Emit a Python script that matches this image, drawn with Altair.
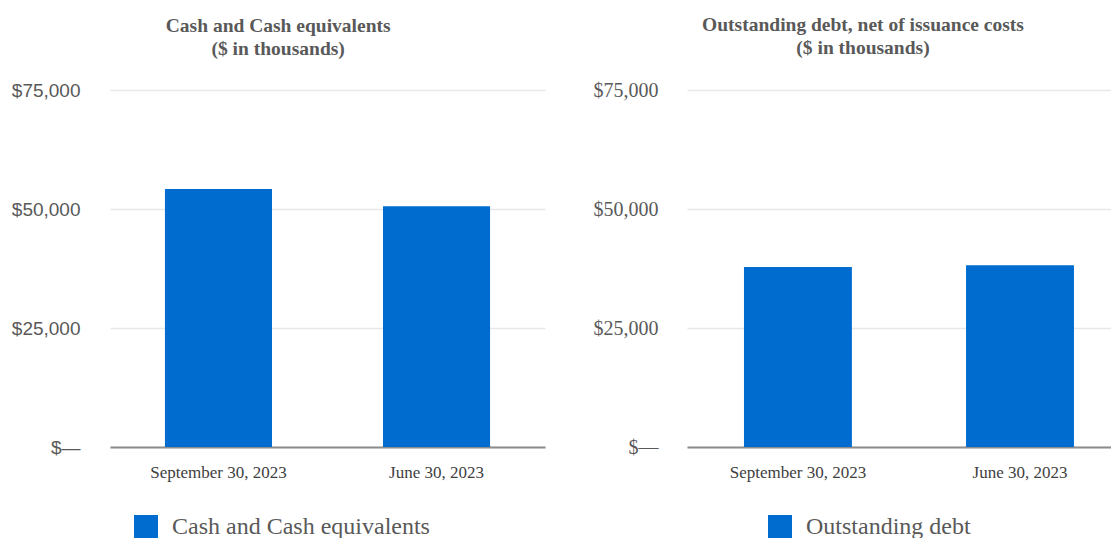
import altair as alt
import pandas as pd

periods = ["September 30, 2023", "June 30, 2023"]
cash_values = [54200, 50600]
debt_values = [37800, 38200]
y_ticks = [0, 25000, 50000, 75000]

left_title = ["Cash and Cash equivalents", "($ in thousands)"]
right_title = ["Outstanding debt, net of issuance costs", "($ in thousands)"]
left_series = "Cash and Cash equivalents"
right_series = "Outstanding debt"

BLUE = "#006ccf"
GREY = "#595959"

cash_df = pd.DataFrame({"period": periods, "value": cash_values, "series": left_series})
debt_df = pd.DataFrame({"period": periods, "value": debt_values, "series": right_series})

label_expr = "datum.value == 0 ? '$\u2014' : '$' + format(datum.value, ',')"


def panel(df, title, series, width, label_font, label_size, label_pad, x_scale, legend_x, title_dx):
    return (
        alt.Chart(df)
        .mark_bar()
        .encode(
            x=alt.X(
                "period:N",
                sort=periods,
                scale=x_scale,
                axis=alt.Axis(
                    title=None,
                    labelAngle=0,
                    labelFont="Liberation Serif",
                    labelFontSize=17,
                    labelColor="#404040",
                    labelPadding=17,
                    ticks=False,
                    domain=True,
                    domainColor="#8c8c8c",
                    domainWidth=2,
                    grid=False,
                ),
            ),
            y=alt.Y(
                "value:Q",
                scale=alt.Scale(domain=[0, 75000], nice=False),
                axis=alt.Axis(
                    title=None,
                    values=y_ticks,
                    labelExpr=label_expr,
                    labelFont=label_font,
                    labelFontSize=label_size,
                    labelColor=GREY,
                    labelPadding=label_pad,
                    ticks=False,
                    domain=False,
                    grid=True,
                    gridColor="#e8e8e8",
                    gridWidth=1.5,
                ),
            ),
            color=alt.Color(
                "series:N",
                scale=alt.Scale(domain=[series], range=[BLUE]),
                legend=alt.Legend(
                    title=None,
                    orient="none",
                    legendX=legend_x,
                    legendY=425,
                    symbolType="square",
                    symbolSize=576,
                    symbolStrokeWidth=0,
                    labelFont="Liberation Serif",
                    labelFontSize=24,
                    labelColor=GREY,
                    labelOffset=14,
                    labelLimit=0,
                ),
            ),
        )
        .properties(
            width=width,
            height=357,
            title=alt.TitleParams(
                title,
                font="Liberation Serif",
                fontSize=19.5,
                fontWeight="bold",
                color=GREY,
                lineHeight=23,
                offset=22,
                dx=title_dx,
                frame="bounds",
                anchor="middle",
            ),
        )
    )


left = panel(
    cash_df, left_title, left_series, 435, "Liberation Sans", 19, 30,
    alt.Scale(paddingInner=0.509, paddingOuter=0.252), 24, 0,
)
right = panel(
    debt_df, right_title, right_series, 424, "Liberation Serif", 20, 29,
    alt.Scale(paddingInner=0.514, paddingOuter=0.2117, align=0.606), 81, 11,
)

chart = (
    alt.hconcat(left, right, spacing=48)
    .resolve_scale(color="independent")
    .properties(padding={"left": 3, "top": 6, "right": 0, "bottom": 0})
    .configure_view(stroke=None)
)

chart.save("out.html", embed_options={"renderer": "svg", "actions": False})
